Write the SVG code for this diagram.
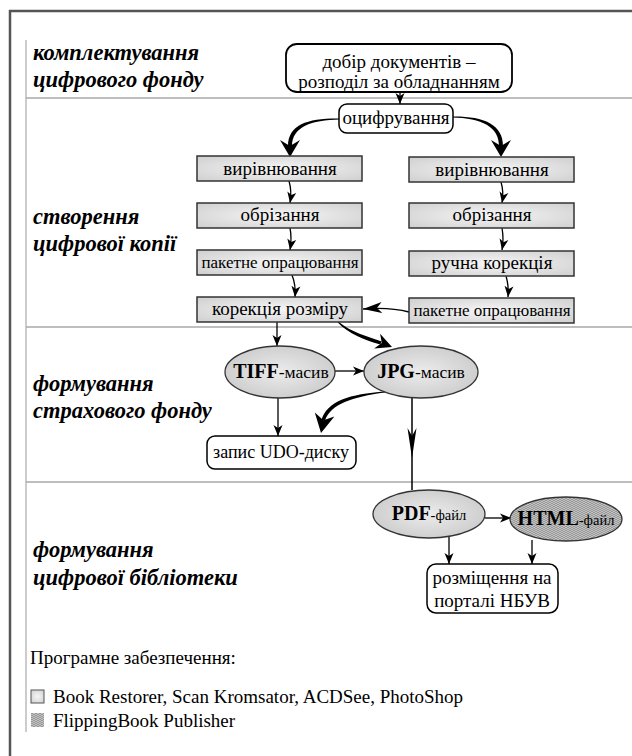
<svg xmlns="http://www.w3.org/2000/svg" width="632" height="756" viewBox="0 0 632 756">
<defs>
<style>
.sec{font-family:"Liberation Serif","DejaVu Serif",serif;font-weight:bold;font-style:italic;font-size:22.5px;fill:#000}
.t{font-family:"Liberation Serif","DejaVu Serif",serif;font-size:19px;fill:#000;text-anchor:middle}
.lg{font-family:"Liberation Serif","DejaVu Serif",serif;font-size:19px;fill:#000}
.rbox{fill:#fff;stroke:#000;stroke-width:1.8}
.gbox{fill:url(#gg);stroke:#333;stroke-width:1.5}
.ell{fill:url(#ge);stroke:#333;stroke-width:1.3}
.sep{stroke:#a8a8a8;stroke-width:1.5;fill:none}
.ln{fill:none;stroke:#000;stroke-width:1.3}
.b{font-weight:bold}
</style>
<radialGradient id="gg" cx="50%" cy="50%" r="70%">
<stop offset="0" stop-color="#f6f6f6"/><stop offset="1" stop-color="#cfcfcf"/>
</radialGradient>
<radialGradient id="ge" cx="50%" cy="50%" r="60%">
<stop offset="0" stop-color="#ececec"/><stop offset="1" stop-color="#c9c9c9"/>
</radialGradient>
<pattern id="hatch" width="4" height="4" patternUnits="userSpaceOnUse">
<rect width="4" height="4" fill="#c2c2c2"/>
<path d="M0,2 L2,0 L4,2 M0,4 L2,2 L4,4" fill="none" stroke="#858585" stroke-width="0.7"/>
</pattern>
<marker id="ah" markerUnits="userSpaceOnUse" markerWidth="12" markerHeight="10" refX="11" refY="5" orient="auto">
<path d="M0,0.5 L11,5 L0,9.5 L3,5 z" fill="#000"/>
</marker>
<marker id="ahL" markerUnits="userSpaceOnUse" markerWidth="20" markerHeight="12" refX="19" refY="6" orient="auto">
<path d="M0,0.5 L19,6 L0,11.5 L5,6 z" fill="#000"/>
</marker>
</defs>
<rect width="632" height="756" fill="#fff"/>

<g id="frame">
<line x1="9" y1="11" x2="632" y2="11" stroke="#555" stroke-width="2.5"/>
<line x1="10" y1="10" x2="10" y2="756" stroke="#555" stroke-width="2.5"/>
<line x1="26" y1="40" x2="26" y2="732" stroke="#999" stroke-width="1"/>
<line class="sep" x1="26" y1="98" x2="632" y2="98"/>
<line class="sep" x1="26" y1="327" x2="632" y2="327"/>
<line class="sep" x1="26" y1="482" x2="632" y2="482"/>
</g>

<g id="sections">
<text class="sec" x="33" y="60">комплектування</text>
<text class="sec" x="33" y="87">цифрового фонду</text>
<text class="sec" x="33" y="224">створення</text>
<text class="sec" x="33" y="251">цифрової копії</text>
<text class="sec" x="33" y="391">формування</text>
<text class="sec" x="33" y="418">страхового фонду</text>
<text class="sec" x="33" y="557">формування</text>
<text class="sec" x="33" y="585">цифрової бібліотеки</text>
</g>

<g id="connectors">
<line class="ln" x1="400" y1="92" x2="400" y2="104" marker-end="url(#ah)"/>
<path d="M340,118.5 C309,118 288,124 288,146 L292,146 C292,127 311,120 340,119.5 Z" fill="#000"/>
<polygon points="290,157 280,140 290,146 300,140" fill="#000"/>
<path d="M452,116.5 C483,116 503,124 503,146 L499,146 C499,127 482,118 452,117.5 Z" fill="#000"/>
<polygon points="501,157 491,140 501,146 511,140" fill="#000"/>
<path class="ln" d="M289,181 Q292,191 290,203" marker-end="url(#ah)"/>
<path class="ln" d="M501,182 Q504,192 502,203" marker-end="url(#ah)"/>
<path class="ln" d="M290,228 Q292,238 290,250" marker-end="url(#ah)"/>
<path class="ln" d="M502,228 Q504,239 502,250" marker-end="url(#ah)"/>
<path class="ln" d="M292,275 Q296,285 295,297" marker-end="url(#ah)"/>
<path class="ln" d="M506,276 Q509,286 508,297" marker-end="url(#ah)"/>
<path class="ln" d="M409,312 Q390,307 363,309" marker-end="url(#ahL)"/>
<line class="ln" x1="277" y1="322" x2="277" y2="346" marker-end="url(#ah)"/>
<path d="M337.5,322.3 C349,334 364,340 380.3,344.6 L381.7,341.4 C366,336 351,332 338.5,321.7 Z" fill="#000"/>
<polygon points="392,347 374.1,348.5 381.8,342.9 380.1,333.7" fill="#000"/>
<line class="ln" x1="335" y1="371" x2="364" y2="371" marker-end="url(#ah)"/>
<line class="ln" x1="278" y1="398" x2="278" y2="436" marker-end="url(#ah)"/>
<path d="M385,391.5 C350,394 327,401 321.5,420 L325,420.5 C331,404 352,397 385,392.5 Z" fill="#000"/>
<polygon points="321,433 314.8,412.4 323.4,420.2 334.4,416.4" fill="#000"/>
<line x1="412" y1="398" x2="412" y2="490" stroke="#000" stroke-width="1.5"/>
<polygon points="412,458 407.5,428 412,436 416.5,428" fill="#000"/>
<line class="ln" x1="485" y1="518" x2="511" y2="518" marker-end="url(#ah)"/>
<line class="ln" x1="449" y1="537" x2="449" y2="564" marker-end="url(#ah)"/>
<line class="ln" x1="532" y1="540" x2="532" y2="564" marker-end="url(#ah)"/>
</g>

<g id="n-dobir">
<rect class="rbox" x="286" y="44" width="226" height="48" rx="11"/>
<text class="t" x="399" y="68">добір документів –</text>
<text class="t" x="399" y="88">розподіл за обладнанням</text>
</g>
<g id="n-ocyfr">
<rect class="rbox" x="339" y="104" width="114" height="29" rx="8" style="stroke-width:1.5"/>
<text class="t" x="396" y="124">оцифрування</text>
</g>

<g id="n-l1"><rect class="gbox" x="197" y="156" width="165" height="25"/><text class="t" x="280" y="175">вирівнювання</text></g>
<g id="n-l2"><rect class="gbox" x="197" y="203" width="165" height="25"/><text class="t" x="280" y="221">обрізання</text></g>
<g id="n-l3"><rect class="gbox" x="197" y="250" width="165" height="25"/><text class="t" x="280" y="268" style="font-size:17px">пакетне опрацювання</text></g>
<g id="n-l4"><rect class="gbox" x="197" y="297" width="165" height="25"/><text class="t" x="280" y="315">корекція розміру</text></g>
<g id="n-r1"><rect class="gbox" x="409" y="157" width="165" height="25"/><text class="t" x="492" y="176">вирівнювання</text></g>
<g id="n-r2"><rect class="gbox" x="409" y="203" width="165" height="25"/><text class="t" x="492" y="221">обрізання</text></g>
<g id="n-r3"><rect class="gbox" x="409" y="251" width="165" height="25"/><text class="t" x="492" y="269">ручна корекція</text></g>
<g id="n-r4"><rect class="gbox" x="409" y="298" width="165" height="25"/><text class="t" x="492" y="316" style="font-size:17px">пакетне опрацювання</text></g>

<g id="n-tiff"><ellipse class="ell" cx="280" cy="372" rx="55" ry="26"/><text class="t" x="281" y="378"><tspan class="b" style="font-size:20px">TIFF</tspan><tspan style="font-size:17.5px">-масив</tspan></text></g>
<g id="n-jpg"><ellipse class="ell" cx="421" cy="372" rx="57" ry="26"/><text class="t" x="421" y="378"><tspan class="b" style="font-size:20px">JPG</tspan><tspan style="font-size:17.5px">-масив</tspan></text></g>
<g id="n-udo"><rect class="rbox" x="207" y="436" width="149" height="33" rx="8" style="stroke-width:1.5"/><text class="t" x="281" y="458" style="font-size:18px">запис UDO-диску</text></g>
<g id="n-pdf"><ellipse class="ell" cx="429" cy="514" rx="56" ry="24"/><text class="t" x="429" y="520"><tspan class="b" style="font-size:20px">PDF</tspan><tspan style="font-size:14.5px">-файл</tspan></text></g>
<g id="n-html"><ellipse cx="566" cy="519" rx="56" ry="22" fill="url(#hatch)" stroke="#333" stroke-width="1.3"/><text class="t" x="566" y="525"><tspan class="b" style="font-size:20px">HTML</tspan><tspan style="font-size:14.5px">-файл</tspan></text></g>
<g id="n-portal"><rect class="rbox" x="427" y="564" width="131" height="49" rx="9" style="stroke-width:1.5"/><text class="t" x="492" y="584">розміщення на</text><text class="t" x="492" y="607">порталі НБУВ</text></g>

<g id="legend">
<text class="lg" x="30" y="664">Програмне забезпечення:</text>
<rect x="31" y="690" width="13" height="13" fill="url(#gg)" stroke="#555" stroke-width="1"/>
<text class="lg" x="53" y="703">Book Restorer, Scan Kromsator, ACDSee, PhotoShop</text>
<rect x="31" y="713" width="13" height="14" fill="url(#hatch)"/>
<text class="lg" x="53" y="727">FlippingBook Publisher</text>
</g>
</svg>
